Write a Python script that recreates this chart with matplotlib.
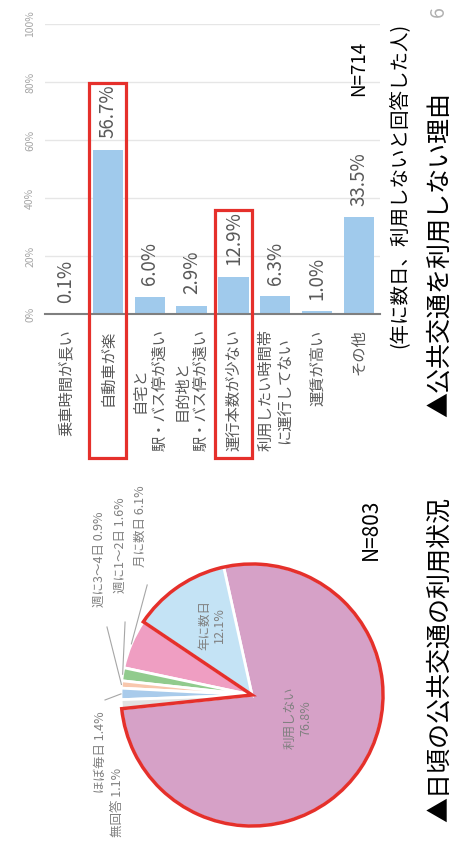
"""
公共交通の利用状況 / 利用しない理由 (page rotated 90 degrees).
"""

import matplotlib
matplotlib.use("Agg")
import numpy as np
import matplotlib.pyplot as plt
from matplotlib.patches import Rectangle, Wedge

plt.rcParams["font.family"] = ["Noto Sans CJK JP", "DejaVu Sans"]

# -----------------------------------
# Data
# -----------------------------------

reasons = [
    "乗車時間が長い",
    "自動車が楽",
    "自宅と\n駅・バス停が遠い",
    "目的地と\n駅・バス停が遠い",
    "運行本数が少ない",
    "利用したい時間帯\nに運行してない",
    "運賃が高い",
    "その他",
]
reason_pct = [0.1, 56.7, 6.0, 2.9, 12.9, 6.3, 1.0, 33.5]
highlight_reasons = ["自動車が楽", "運行本数が少ない"]
pct_ticks = [0, 20, 40, 60, 80, 100]
n_reasons = 714

usage = ["利用しない", "年に数日", "月に数日", "週に1〜2日", "週に3〜4日", "ほぼ毎日", "無回答"]
usage_pct = [76.8, 12.1, 6.1, 1.6, 0.9, 1.4, 1.1]
usage_colors = ["#d6a1c7", "#c4e3f5", "#ef9ec2", "#91cb8d", "#f8c7ad", "#a9cbeb", "#e2e2e2"]
n_usage = 803

# -----------------------------------
# Figure (pixel helpers)
# -----------------------------------

W, H = 453, 850
fig = plt.figure(figsize=(W / 100, H / 100), dpi=100)


def fx(px):
    return px / W


def fy(py):
    return 1 - py / H


gray_text = "#595959"
red = "#e5302b"

# -----------------------------------
# Bar chart
# -----------------------------------

ax = fig.add_axes([fx(45), fy(314), 335 / W, 290 / H])
x = list(range(len(reasons)))
ax.bar(x, reason_pct, width=0.72, color="#a0caec", zorder=2)

ax.set_xlim(-0.5, len(reasons) - 0.5)
ax.set_ylim(0, 100)
ax.set_yticks(pct_ticks, [f"{t}%" for t in pct_ticks], rotation=90, va="center")
ax.set_xticks(x, reasons, rotation=90, va="top", ha="center", multialignment="center")
ax.tick_params(axis="y", length=0, pad=7, labelsize=7.5, labelcolor="#a6a6a6")
ax.tick_params(axis="x", length=0, pad=11, labelsize=11, labelcolor=gray_text)
ax.grid(axis="y", color="#e6e6e6", linewidth=1, zorder=0)
for loc, spine in ax.spines.items():
    if loc == "bottom":
        spine.set_color("#7f7f7f")
        spine.set_linewidth(1.5)
        spine.set_zorder(3)
    else:
        spine.set_visible(False)

for xi, v in zip(x, reason_pct):
    ax.annotate(f"{v:.1f}%", (xi, v), xytext=(0, 8), textcoords="offset points",
                rotation=90, ha="center", va="bottom", fontsize=13.5, color=gray_text)

for name in highlight_reasons:
    i = reasons.index(name)
    v = reason_pct[i]
    ax.add_patch(Rectangle((i - 0.44, -49.7), 0.88, v + 23 + 49.7, fill=False,
                           edgecolor=red, linewidth=2.3, clip_on=False, zorder=5))

ax.text(len(reasons) - 1, 75, f"N={n_reasons}", rotation=90, ha="center", va="bottom",
        fontsize=13.5, color="black")

# -----------------------------------
# Pie chart
# -----------------------------------

r_px = 131
side = 2 * r_px * 1.1
pax = fig.add_axes([fx(252 - side / 2), fy(695 + side / 2), side / W, side / H])
wedges, _ = pax.pie(usage_pct, colors=usage_colors, startangle=186, counterclock=True,
                    wedgeprops=dict(edgecolor="white", linewidth=2))
pax.set_xlim(-1.1, 1.1)
pax.set_ylim(-1.1, 1.1)

# red outline around 利用しない + 年に数日
pax.add_patch(Wedge((0, 0), 1.0, wedges[0].theta1, wedges[1].theta2, fill=False,
                    edgecolor=red, linewidth=2.5, zorder=5))

pie_gray = "#808080"
pax.text(-0.305, 0.534, "年に数日\n12.1%", rotation=90, ha="center", va="center",
         multialignment="center", fontsize=9, color=pie_gray)
pax.text(0.351, -0.176, "利用しない\n76.8%", rotation=90, ha="center", va="center",
         multialignment="center", fontsize=9, color=pie_gray)

# outside labels: (index, label position, leader end)
outside = [
    (2, (-0.855, 0.977), (-0.80, 0.84)),
    (3, (-1.008, 0.779), (-0.969, 0.557)),
    (4, (-1.168, 0.672), (-1.107, 0.519)),
    (5, (-1.160, -0.748), (-1.122, -0.038)),
    (6, (-1.031, -1.084), None),
]
for i, (lx, ly), lead in outside:
    pax.text(lx, ly, f"{usage[i]} {usage_pct[i]}%", rotation=90, ha="center", va="bottom",
             fontsize=9, color=pie_gray)
    if lead is not None:
        mid = np.deg2rad((wedges[i].theta1 + wedges[i].theta2) / 2)
        pax.plot([np.cos(mid), lead[0]], [np.sin(mid), lead[1]], color="#a6a6a6",
                 linewidth=0.8, clip_on=False)

fig.text(fx(371), fy(560), f"N={n_usage}", rotation=90, ha="center", va="bottom",
         fontsize=15, color="black")

# -----------------------------------
# Titles
# -----------------------------------

fig.text(fx(400), fy(348), "(年に数日、利用しないと回答した人)", rotation=90,
         ha="center", va="bottom", fontsize=14, color="black")
fig.text(fx(440), fy(417), "▲公共交通を利用しない理由", rotation=90,
         ha="center", va="bottom", fontsize=18, color="black")
fig.text(fx(440), fy(822), "▲日頃の公共交通の利用状況", rotation=90,
         ha="center", va="bottom", fontsize=18, color="black")
fig.text(fx(438), fy(6), "6", rotation=90, ha="center", va="top",
         fontsize=14, color="#b0b0b0")

fig.savefig("out.png", dpi=100)
plt.close(fig)
